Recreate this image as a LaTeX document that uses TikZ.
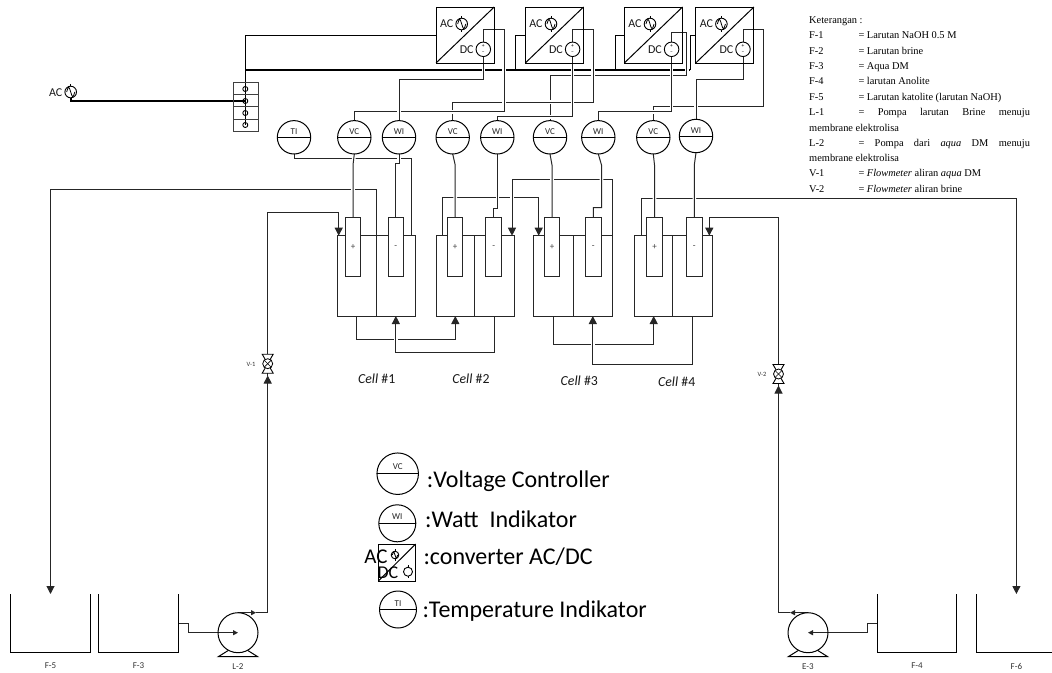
\documentclass[tikz,border=0pt]{standalone}
\usepackage{fontspec}
\setmainfont{Carlito}
\newfontfamily\legendfont{Liberation Serif}
\usepackage{tikz}
\usetikzlibrary{arrows.meta}
\usetikzlibrary{backgrounds}
\definecolor{wirecol}{gray}{0.15}

\tikzset{
 wire/.style={line width=1pt,draw=wirecol,preaction={draw=white,line width=3.6pt,-}},
 wireplain/.style={line width=1pt,draw=black},
 wirethick/.style={line width=1.8pt,draw=black},
 pipetip/.style={-{Triangle[length=8pt,width=8pt]}},
 pumptip/.style={-{Triangle[length=5pt,width=5pt]}},
 gauge/.style={circle,draw=black,line width=1pt,fill=white,inner sep=0pt,outer sep=0pt},
 gaugetxt/.style={inner sep=0pt,text=black!85,font=\fontsize{9}{9}\selectfont},
 cellbox/.style={rectangle,draw=wirecol,line width=1pt,inner sep=0pt,outer sep=0pt,minimum height=80.3pt},
 elecbox/.style={rectangle,draw=wirecol,line width=1pt,fill=white,inner sep=0pt,outer sep=0pt,minimum width=15.5pt,minimum height=58.3pt,text=black!75,font=\fontsize{9}{9}\selectfont},
 convbox/.style={rectangle,draw=black,line width=1pt,inner sep=0pt,outer sep=0pt,minimum width=58.2pt,minimum height=56pt},
 convtxt/.style={inner sep=0pt,text=black!90,font=\fontsize{12}{13}\selectfont},
 tank/.style={rectangle,inner sep=0pt,outer sep=0pt,minimum width=79.6pt,minimum height=58pt},
 tagtxt/.style={inner sep=0pt,text=black!80,font=\fontsize{9}{9}\selectfont},
 celltxt/.style={inner sep=0pt,text=black!90,font=\fontsize{13.8}{14}\selectfont},
 keytxt/.style={inner sep=0pt,anchor=west,font=\fontsize{24}{26}\selectfont},
 notetxt/.style={inner sep=0pt,anchor=base west,font=\legendfont\fontsize{10.4}{11}\selectfont},
 termdot/.style={circle,draw=black,line width=0.9pt,inner sep=0pt,outer sep=0pt,minimum size=5pt},
 valvedot/.style={circle,draw=black,line width=0.8pt,fill=white,inner sep=0pt,outer sep=0pt,minimum size=10pt},
}

% measuring circle with its tag above the bar
\newcommand{\gaugenode}[5]{
  \node[gauge,minimum size=#5pt] (#1) at (#2,#3) {};
  \draw[line width=1pt] (#1.west) -- (#1.east);
  \node[gaugetxt] (#1txt) at (#2,#3-#5*0.17) {#4};
}
\newcommand{\acsource}[4]{
  \node[circle,draw=black,line width=0.9pt,inner sep=0pt,outer sep=0pt,minimum size=2*#4 pt] (#1) at (#2,#3) {};
  \draw[line width=0.8pt] (#1.north) -- ++(0,-2);
  \draw[line width=0.8pt] (#1.south) -- ++(0,2);
  \begin{scope}[shift={(#2,#3)}]
    \draw[line width=0.8pt] (-.7*#4,0) .. controls (-.35*#4,-1.1*#4) .. (0,0) .. controls (.35*#4,1.1*#4) .. (.7*#4,0);
  \end{scope}
}
\newcommand{\dcsource}[3]{
  \node[circle,draw=black,line width=0.9pt,inner sep=0pt,outer sep=0pt,minimum size=14.5pt] (#1) at (#2,#3) {};
  \node[inner sep=0pt,font=\fontsize{5.5}{5}\selectfont] (#1plus) at (#2,#3-3) {+};
  \node[inner sep=0pt,font=\fontsize{5.5}{5}\selectfont] (#1minus) at (#2,#3+3.4) {--};
}
\newcommand{\pumpnode}[2]{
  \node[circle,draw=black,line width=1pt,inner sep=0pt,outer sep=0pt,minimum size=40pt] (#1) at (#2,632.7) {};
  \draw[line width=1pt] (#2-9.5,650.3) -- (#2-19.7,656.7) -- (#2+19.7,656.7) -- (#2+9.5,650.3);
}
\newcommand{\valvenode}[3]{
  \draw[line width=0.9pt,fill=white] (#2-5.5,#3-9.5) -- (#2+5.5,#3-9.5) -- (#2-5.5,#3+9.5) -- (#2+5.5,#3+9.5) -- cycle;
  \node[valvedot] (#1) at (#2,#3) {};
  \draw[line width=0.6pt] (#1.north west) -- (#1.south east);
  \draw[line width=0.6pt] (#1.north east) -- (#1.south west);
}

\begin{document}
\begin{tikzpicture}[x=1pt,y=-1pt]
  \useasboundingbox (0,0) rectangle (1052,672);

  % converters
  \foreach \cid/\xb in {a/436,b/525.3,c/624.3,d/695.7}{
    \node[convbox,anchor=north west] (conv\cid) at (\xb,7) {};
    \draw[line width=1pt] (conv\cid.south west) -- (conv\cid.north east);
    \node[convtxt] (actxt\cid) at (\xb+10.7,23.5) {AC};
    \node[convtxt] (dctxt\cid) at (\xb+30.7,50) {DC};
    \acsource{acs\cid}{\xb+25.7}{24}{5.8}
    \dcsource{dcs\cid}{\xb+47.3}{49.3}
  }

  % mains and terminal block
  \node[convtxt] (acmaintxt) at (55.7,92.7) {AC};
  \acsource{acmain}{70.7}{92}{5.8}
  \node[rectangle,draw=black!75,line width=0.9pt,inner sep=0pt,outer sep=0pt,minimum width=25pt,minimum height=48.3pt] (block) at (245.5,106.85) {};
  \foreach \tid/\yt in {a/89,b/101,c/113,d/125}{
    \node[termdot] (term\tid) at (245.3,\yt) {};
  }
  \foreach \yt in {94.7,106.7,119}{
    \draw[draw=black!75,line width=0.9pt] (block.west |- 0,\yt) -- (block.east |- 0,\yt);
  }

  % instruments
  \gaugenode{TI}{294}{137.3}{TI}{33.4}
  \gaugenode{VCa}{354.3}{137.3}{VC}{33.4}
  \gaugenode{WIa}{399}{137.3}{WI}{33.4}
  \gaugenode{VCb}{452.7}{137.3}{VC}{33.4}
  \gaugenode{WIb}{497.3}{137.3}{WI}{33.4}
  \gaugenode{VCc}{550}{137.3}{VC}{33.4}
  \gaugenode{WIc}{598.3}{137.3}{WI}{33.4}
  \gaugenode{VCd}{653.3}{137.3}{VC}{33.4}
  \gaugenode{WId}{696}{136}{WI}{33.4}

  % cells
  \foreach \cid/\xl/\xm/\xr/\xp/\xn in {a/337.7/376/415.7/353/395.8,b/436.3/474.3/514/455.2/493.7,c/533.7/573.3/612.3/552/593.3,d/634.7/672.7/712.3/654.5/694.3}{
    \node[cellbox,minimum width={(\xm-\xl)*1pt},anchor=north west] (cell\cid-l) at (\xl,235.7) {};
    \node[cellbox,minimum width={(\xr-\xm)*1pt},anchor=north west] (cell\cid-r) at (\xm,235.7) {};
    \node[elecbox] (plus\cid) at (\xp,246.85) {+};
    \node[elecbox] (minus\cid) at (\xn,246.85) {-};
  }
  \node[celltxt] (cellatxt) at (376.7,378.7) {\emph{Cell} \#1};
  \node[celltxt] (cellbtxt) at (471,378.7) {\emph{Cell} \#2};
  \node[celltxt] (cellctxt) at (579.3,380.7) {\emph{Cell} \#3};
  \node[celltxt] (celldtxt) at (676.7,381.7) {\emph{Cell} \#4};

  % tanks and pumps
  \foreach \tid/\xt/\ttag in {fe/50.5/F-5,fc/138.5/F-3,fd/917/F-4,ff/1016.4/F-6}{
    \node[tank] (tank\tid) at (\xt,623) {};
    \draw[line width=1pt] (tank\tid.north west) |- (tank\tid.south east) -- (tank\tid.north east);
    \node[tagtxt] (tag\tid) at (\xt,666) {\ttag};
  }
  \pumpnode{pumpl}{238}
  \pumpnode{pumpe}{808}
  \node[tagtxt] (taglp) at (238,667) {L-2};
  \node[tagtxt] (tagep) at (808,667) {E-3};
  \valvenode{valvea}{267.7}{363.7}
  \valvenode{valveb}{778.5}{374}
  \node[tagtxt,font=\fontsize{6.5}{7}\selectfont] (tagva) at (251,364) {V-1};
  \node[tagtxt,font=\fontsize{6.5}{7}\selectfont] (tagvb) at (762,374) {V-2};

  % free ends on the cell lids and in the pipes
  \coordinate (lidti) at (411.7,235.7);
  \coordinate (lida) at (338.7,235.7);
  \coordinate (lidbb) at (442.7,235.7);
  \coordinate (lidbc) at (512,235.7);
  \coordinate (lidc) at (538.7,235.7);
  \coordinate (lidcc) at (612.3,235.7);
  \coordinate (lidd) at (641,235.7);
  \coordinate (lidde) at (709.3,235.7);
  \coordinate (midl) at (256,612.7);
  \coordinate (mide) at (790,612.7);
  \coordinate (tipva) at (267.7,375.5);
  \coordinate (tipvb) at (778.5,385.5);

  % legend of symbols
  \gaugenode{VCkey}{397.7}{473.7}{VC}{41.5}
  \gaugenode{WIkey}{397.3}{523.3}{WI}{37}
  \gaugenode{TIkey}{398}{609.5}{TI}{37}
  \node[convbox,minimum width=37.4pt,minimum height=37pt] (convkey) at (397,562.5) {};
  \draw[line width=1pt] (convkey.south west) -- (convkey.north east);
  \node[inner sep=0pt,font=\fontsize{21}{22}\selectfont] (ackeytxt) at (376,556.5) {AC};
  \node[inner sep=0pt,font=\fontsize{18}{19}\selectfont] (dckeytxt) at (388,573) {DC};
  \acsource{ackey}{395}{555}{3.8}
  \node[circle,draw=black,line width=0.9pt,inner sep=0pt,outer sep=0pt,minimum size=9pt] (dckey) at (408,571.7) {};
  \draw[line width=0.8pt] (dckey.north) -- ++(0,-2);
  \draw[line width=0.8pt] (dckey.south) -- ++(0,2);
  \node[keytxt] (keyvc) at (426.7,481) {:Voltage Controller};
  \node[keytxt] (keywi) at (425,519) {:Watt\ \ Indikator};
  \node[keytxt] (keyconv) at (423.3,556.5) {:converter AC/DC};
  \node[keytxt] (keyti) at (422.3,611.5) {:Temperature Indikator};

  % notes
  \node[notetxt] (notehead) at (809,23.4) {Keterangan :};
  \foreach \nid/\ypos/\nkey/\nval in {fa/38.4/F-1/{= Larutan NaOH 0.5 M},fb/54.4/F-2/{= Larutan brine},fc/69.4/F-3/{= Aqua DM},fd/84.4/F-4/{= larutan Anolite},fe/100/F-5/{= Larutan katolite (larutan NaOH)},la/115.4/L-1/{\makebox[171.5pt][s]{=\hfill Pompa\hfill larutan\hfill Brine\hfill menuju}},lb/146/L-2/{\makebox[171.5pt][s]{=\hfill Pompa\hfill dari\hfill \emph{aqua}\hfill DM\hfill menuju}},va/176.7/V-1/{= \emph{Flowmeter} aliran \emph{aqua} DM},vb/192/V-2/{= \emph{Flowmeter} aliran brine}}{
    \node[notetxt] (notekey\nid) at (809,\ypos) {\nkey};
    \node[notetxt] (noteval\nid) at (858.3,\ypos) {\nval};
  }
  \node[notetxt] (notecontla) at (809,131) {membrane elektrolisa};
  \node[notetxt] (notecontlb) at (809,161.4) {membrane elektrolisa};

  % all lines sit behind the symbols
  \begin{scope}[on background layer]
    % power
    \draw[wireplain] (termd.center) |- (conva.west);
    \draw[wirethick] (acmain.south) |- (termb.center);
    \draw[wireplain] (515.3,70) |- (convb.west);
    \draw[wireplain] (615,70) |- (convc.west);
    \draw[wireplain] (690,70) |- (convd.west);
    \draw[wirethick] (245.3,70) -- (690,70);

    % pipes over the cells
    \draw[wire] (TI.south) |- (lidti |- 0,158.3) -- (lidti);
    \draw[wire,pipetip] (cella-l.north east) |- (tankfe.north |- 0,189.3) -- (tankfe.north);
    \draw[wire,pipetip] (lidbb) |- (lidc |- 0,197) -- (lidc);
    \draw[wire,pipetip] (lidcc) |- (lidbc |- 0,179.3) -- (lidbc);
    \draw[wire,pipetip] (lidd) |- (tankff.north |- 0,198.3) -- (tankff.north);

    % supply lines with valves
    \draw[wire,pumptip] (pumpl.north) -- (midl);
    \draw[wire,pipetip] (midl) -| (tipva);
    \draw[wire] (tipva) -- (valvea);
    \draw[wire,pipetip] (valvea) |- (lida |- 0,212.3) -- (lida);
    \draw[wire,pumptip] (tankfc.east) -- ++(10,0) |- (pumpl.center);
    \draw[wire,pumptip] (pumpe.north) -- (mide);
    \draw[wire,pipetip] (mide) -| (tipvb);
    \draw[wire] (tipvb) -- (valveb);
    \draw[wire,pipetip] (valveb) |- (lidde |- 0,217.3) -- (lidde);
    \draw[wire,pumptip] (tankfd.west) -- ++(-10,0) |- (pumpe.center);

    % links under the cells
    \draw[wire,pipetip] (cella-l.south) -- ++(0,23) -| (cellb-l.south);
    \draw[wire,pipetip] (cellb-r.south) -- ++(0,36.7) -| (cella-r.south);
    \draw[wire,pipetip] (cellc-l.south) -- ++(0,28.7) -| (celld-l.south);
    \draw[wire,pipetip] (celld-r.south) -- ++(0,48) -| (cellc-r.south);

    % converter outputs
    \draw[wire] (dcsc.north) |- (686.7,32.3) |- (VCc.north |- 0,75) -- (VCc.north);
    \draw[wire] (dcsb.north) |- (593,29) |- (VCb.north |- 0,102) -- (VCb.north);
    \draw[wire] (dcsa.north) |- (504,29) |- (VCa.north |- 0,111.7) -- (VCa.north);
    \draw[wire] (dcsd.north) |- (763.3,29) |- (VCd.north |- 0,106.7) -- (VCd.north);
    \draw[wire] (dcsa.south) |- (WIa.north |- 0,79) -- (WIa.north);
    \draw[wire] (dcsd.south) |- (WId.north |- 0,79) -- (WId.north);
    \draw[wire] (dcsb.south) |- (WIb.north |- 0,116.7) -- (WIb.north);
    \draw[wire] (dcsc.south) |- (WIc.north |- 0,111.7) -- (WIc.north);

    % instruments to electrodes
    \draw[wire] (VCa.south) -- (plusa.north |- 0,165) -- (plusa.north);
    \draw[wire] (WIa.south) -- ++(0,9.3) -| (minusa.north);
    \draw[wire] (VCb.south) -- (plusb.north |- 0,165) -- (plusb.north);
    \draw[wire] (WIb.south) -- (WIb.south |- 0,208.3) -| (minusb.north);
    \draw[wire] (VCc.south) -- (plusc.north |- 0,165) -- (plusc.north);
    \draw[wire] (WIc.south) -- (601.5,165) -- (601.5,207.7) -| (minusc.north);
    \draw[wire] (VCd.south) -- (plusd.north |- 0,165) -- (plusd.north);
    \draw[wire] (WId.south) -- (minusd.north |- 0,165) -- (minusd.north);
  \end{scope}
\end{tikzpicture}
\end{document}
